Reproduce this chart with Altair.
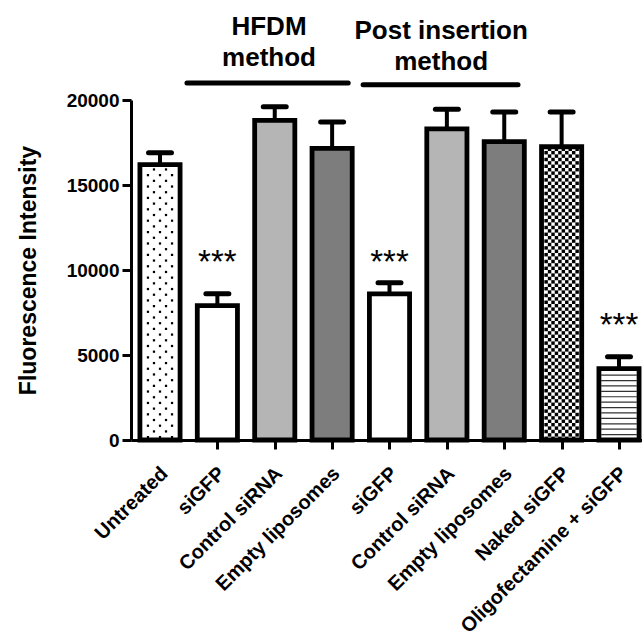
import altair as alt
import pandas as pd

# ---- data ----
categories = ["Untreated", "siGFP", "Control siRNA", "Empty liposomes",
              "siGFP", "Control siRNA", "Empty liposomes",
              "Naked siGFP", "Oligofectamine + siGFP"]
means = [16200, 7900, 18800, 17150, 8600, 18300, 17550, 17250, 4200]
errors = [700, 700, 800, 1550, 650, 1150, 1750, 2050, 700]
fills = ["#ffffff", "#ffffff", "#b5b5b5", "#7d7d7d",
         "#ffffff", "#b5b5b5", "#7d7d7d", "#ffffff", "#ffffff"]
textures = ["dots", "none", "none", "none", "none", "none", "none", "checker", "lines"]

star_bars = [1, 4, 8]
star_levels = [9800, 9800, 6100]

group_labels = ["HFDM\nmethod", "Post insertion\nmethod"]
group_label_x = [1.9, 4.9]
group_label_y = [23850, 23600]
group_line_x1 = [0.47, 3.54]
group_line_x2 = [3.28, 6.24]
group_line_y = [21000, 20900]

y_ticks = [0, 5000, 10000, 15000, 20000]

FONT = "Liberation Sans"
HALF = 0.35

bars = pd.DataFrame({
    "idx": list(range(len(categories))),
    "cat": categories,
    "mean": means,
    "err": errors,
    "fill": fills,
})

# ---- bar textures (decoration built from the bar heights) ----
dot_rows, check_rows, line_rows = [], [], []
for i, (m, t) in enumerate(zip(means, textures)):
    if t == "dots":
        r = 0
        v = 170
        while v < m - 150:
            offs = [-0.21, 0.0, 0.21] if r % 2 == 0 else [-0.105, 0.105]
            for o in offs:
                dot_rows.append({"xp": i + o, "yp": v})
            v += 335
            r += 1
    elif t == "checker":
        r = 0
        v = 100
        while v < m - 60:
            for k in range(10):
                if (k + r) % 2 == 0:
                    check_rows.append({"xp": i - 0.27 + k * 0.06, "yp": v})
            v += 200
            r += 1
    elif t == "lines":
        v = 318
        while v < m - 120:
            line_rows.append({"x1": i - 0.31, "x2": i + 0.31, "yp": v})
            v += 318

dots = pd.DataFrame(dot_rows)
checks = pd.DataFrame(check_rows)
hlines = pd.DataFrame(line_rows)

stars = pd.DataFrame({"idx": star_bars, "yp": star_levels, "t": ["***"] * len(star_bars)})
groups = pd.DataFrame({"x": group_label_x, "y": group_label_y, "t": group_labels})
glines = pd.DataFrame({"x1": group_line_x1, "x2": group_line_x2, "y": group_line_y})

xs = alt.Scale(domain=[-0.5054, 8.4009], nice=False, zero=False)
ys = alt.Scale(domain=[0, 20000], nice=False, zero=False)

label_js = "[" + ",".join("'" + c + "'" for c in categories) + "][datum.value]"

x_axis = alt.Axis(
    values=list(range(len(categories))),
    labelExpr=label_js,
    title="",
    tickOpacity=alt.condition("datum.value == 0", alt.value(0), alt.value(1)),
)
y_axis = alt.Axis(
    values=y_ticks,
    format="d",
    title="Fluorescence Intensity",
)


def X(f):
    return alt.X(f, scale=xs, axis=x_axis)


def Y(f):
    return alt.Y(f, scale=ys, axis=y_axis)


base = alt.Chart(bars).transform_calculate(
    xl=f"datum.idx - {HALF}", xr=f"datum.idx + {HALF}", top="datum.mean + datum.err",
    cl="datum.idx - 0.2", cr="datum.idx + 0.2",
)

fill_layer = base.mark_rect().encode(
    x=X("xl:Q"), x2="xr:Q",
    y=Y("mean:Q"), y2=alt.datum(0),
    fill=alt.Fill("fill:N", scale=None),
)

dot_layer = alt.Chart(dots).mark_square(size=5, color="black", opacity=1).encode(
    x=X("xp:Q"), y=Y("yp:Q"),
)

check_layer = alt.Chart(checks).mark_square(size=12, color="black", opacity=1).encode(
    x=X("xp:Q"), y=Y("yp:Q"),
)

line_layer = alt.Chart(hlines).mark_rule(color="#333333", strokeWidth=1.2).encode(
    x=X("x1:Q"), x2="x2:Q", y=Y("yp:Q"),
)

outline_layer = base.mark_rect(fillOpacity=0, stroke="black", strokeWidth=4.8).encode(
    x=X("xl:Q"), x2="xr:Q",
    y=Y("mean:Q"), y2=alt.datum(0),
)

err_layer = base.mark_rule(color="black", strokeWidth=4).encode(
    x=X("idx:Q"), y=Y("mean:Q"), y2="top:Q",
)

cap_layer = base.mark_rule(color="black", strokeWidth=5, strokeCap="round").encode(
    x=X("cl:Q"), x2="cr:Q", y=Y("top:Q"),
)

star_layer = alt.Chart(stars).mark_text(
    font=FONT, fontSize=33, color="black", align="center", baseline="alphabetic"
).encode(
    x=X("idx:Q"), y=Y("yp:Q"), text="t:N",
)

group_text_layer = alt.Chart(groups).mark_text(
    font=FONT, fontSize=26, fontWeight="bold", color="black", align="center",
    baseline="alphabetic", lineBreak="\n", lineHeight=31,
).encode(
    x=X("x:Q"), y=Y("y:Q"), text="t:N",
)

group_line_layer = alt.Chart(glines).mark_rule(color="black", strokeWidth=5, strokeCap="round").encode(
    x=X("x1:Q"), x2="x2:Q", y=Y("y:Q"),
)

chart = alt.layer(
    fill_layer, dot_layer, check_layer, line_layer, outline_layer,
    err_layer, cap_layer, star_layer, group_text_layer, group_line_layer,
).properties(
    width=511, height=340,
    autosize=alt.AutoSizeParams(type="none"),
    padding={"left": 131, "top": 100, "right": 0, "bottom": 200},
    background="white",
).configure_view(
    stroke=None
).configure_axis(
    grid=False,
    domainColor="black", domainWidth=3,
    tickColor="black", tickWidth=3, tickSize=9,
    labelFont=FONT, labelFontWeight="bold", labelColor="black",
    titleFont=FONT, titleFontWeight="bold", titleColor="black",
).configure_axisX(
    labelAngle=315, labelAlign="right", labelBaseline="top",
    labelPadding=14, labelOffset=-3, labelFontSize=20,
    labelOverlap=False, labelFlush=False, labelBound=False, labelLimit=0,
).configure_axisY(
    labelFontSize=19, labelPadding=3,
    titleFontSize=23, titlePadding=26,
)

chart.save("out.html", embed_options={"renderer": "svg", "actions": False})
